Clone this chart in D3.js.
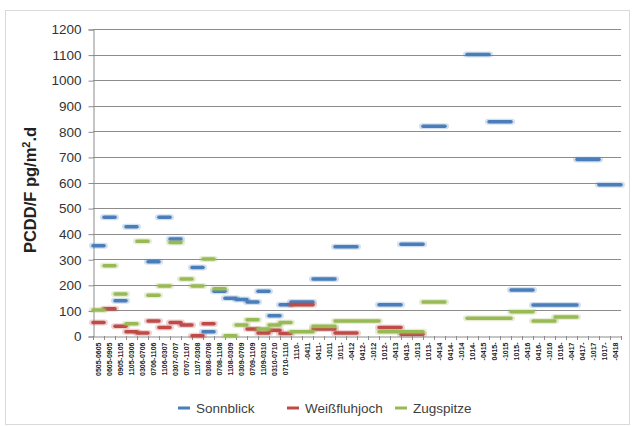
<!DOCTYPE html>
<html>
<head>
<meta charset="utf-8">
<script src="https://cdn.jsdelivr.net/npm/d3@7"></script>
<style>
  body { margin: 0; background: #fff; }
  svg text { font-family: "Liberation Sans", Arial, sans-serif; }
</style>
</head>
<body>
<svg id="chart" width="632" height="426"></svg>
<script>
// sampling periods (x categories)
var categories = [
  "0505-0605","0605-0905","0905-1105","1105-0306","0306-0706","0706-1106",
  "1106-0307","0307-0707","0707-1107","1107-0308","0308-0708","0708-1108",
  "1108-0309","0309-0709","0709-1109","1109-0310","0310-0710","0710-1110",
  "1110-","-0411","0411-","-1011","1011-","-0412","0412-","-1012",
  "1012-","-0413","0413-","-1013","1013-","-0414","0414-","-1014",
  "1014-","-0415","0415-","-1015","1015-","-0416","0416-","-1016",
  "1016-","-0417","0417-","-1017","1017-","-0418"
];
var yTicks = [0,100,200,300,400,500,600,700,800,900,1000,1100,1200];

// pg/m2.d per period, equal neighbours form one longer bar
var sonnblick = [353,464,138,427,null,290,464,379,null,268,17,175,148,143,133,175,79,122,
  133,133,223,223,349,349,null,null,122,122,359,359,820,820,null,null,
  1100,1100,837,837,180,180,121,121,121,121,690,690,591,591];
var weissfluhjoch = [53,107,38,17,12,59,33,53,43,1,48,null,null,null,27,12,22,10,
  122,122,27,27,12,12,null,null,33,33,7,7,null,null,null,null,
  null,null,null,null,null,null,null,null,null,null,null,null,null,null];
var zugspitze = [102,275,164,48,370,159,195,365,223,195,301,185,1,43,64,27,43,53,
  17,17,38,38,59,59,59,59,17,17,17,17,133,133,null,null,
  69,69,69,69,95,95,59,59,74,74,null,null,null,null];

var seriesNames = ["Sonnblick","Weißfluhjoch","Zugspitze"];
var seriesColors = ["#4a7ebb","#be4b48","#98b954"];
var seriesData = [sonnblick, weissfluhjoch, zugspitze];

var svg = d3.select("#chart");
var plotLeft = 93, plotRight = 621, plotTop = 29, plotBottom = 336;

// frame
svg.append("rect").attr("x",5.5).attr("y",10.5).attr("width",624).attr("height",414)
  .attr("fill","none").attr("stroke","#d9d9d9");

var x = d3.scaleBand().domain(categories).range([plotLeft,plotRight]).paddingInner(0).paddingOuter(0);
var y = d3.scaleLinear().domain([0,1200]).range([plotBottom,plotTop]);

// gridlines
svg.append("g").selectAll("line").data(yTicks.slice(1)).join("line")
  .attr("x1",plotLeft).attr("x2",plotRight)
  .attr("y1",function(d){return Math.round(y(d))+0.5;})
  .attr("y2",function(d){return Math.round(y(d))+0.5;})
  .attr("stroke","#8c8c8c").attr("stroke-width",1);

// y axis
var yAxis = svg.append("g").attr("transform","translate("+(plotLeft+0.5)+",0.5)")
  .call(d3.axisLeft(y).tickValues(yTicks).tickFormat(d3.format("d")).tickSize(5).tickPadding(7));
yAxis.select(".domain").attr("stroke","#8c8c8c");
yAxis.selectAll(".tick line").attr("stroke","#8c8c8c");
yAxis.selectAll("text").attr("font-family","DejaVu Sans, sans-serif")
  .attr("font-size","13.5px").attr("fill","#333");

// x axis
var xAxis = svg.append("g").attr("transform","translate(0,"+(plotBottom+0.5)+")")
  .call(d3.axisBottom(x).tickSize(0).tickPadding(0));
xAxis.select(".domain").attr("stroke","#8c8c8c");
xAxis.selectAll("text")
  .attr("transform","rotate(-90)")
  .attr("text-anchor","end")
  .attr("x",-6).attr("y",0.5).attr("dy","0.35em")
  .attr("font-size","7px").attr("font-weight","bold").attr("fill","#222");
// tick marks between categories
svg.append("g").selectAll("line").data(categories.concat([null])).join("line")
  .attr("x1",function(d,i){return Math.round(plotLeft+i*x.bandwidth())+0.5;})
  .attr("x2",function(d,i){return Math.round(plotLeft+i*x.bandwidth())+0.5;})
  .attr("y1",plotBottom).attr("y2",plotBottom+4)
  .attr("stroke","#8c8c8c");

// merge equal neighbours into bars
function segments(vals) {
  var out = [], i = 0;
  while (i < vals.length) {
    if (vals[i] == null) { i++; continue; }
    var j = i;
    while (j+1 < vals.length && vals[j+1] === vals[i]) j++;
    out.push({x0: x(categories[i]) - 1, x1: x(categories[j]) + x.bandwidth() + 1, v: vals[i]});
    i = j+1;
  }
  return out;
}

seriesData.forEach(function(vals, k){
  var g = svg.append("g");
  var segs = segments(vals);
  g.selectAll("line.glow").data(segs).join("line").attr("class","glow")
    .attr("x1",function(d){return d.x0;}).attr("x2",function(d){return d.x1;})
    .attr("y1",function(d){return y(d.v);}).attr("y2",function(d){return y(d.v);})
    .attr("stroke",seriesColors[k]).attr("stroke-opacity",0.25)
    .attr("stroke-width",6).attr("stroke-linecap","round");
  g.selectAll("line.bar").data(segs).join("line").attr("class","bar")
    .attr("x1",function(d){return d.x0+1;}).attr("x2",function(d){return d.x1-1;})
    .attr("y1",function(d){return y(d.v);}).attr("y2",function(d){return y(d.v);})
    .attr("stroke",seriesColors[k]).attr("stroke-width",3.5).attr("stroke-linecap","round");
});

// y title
svg.append("text")
  .attr("transform","translate(36,190) rotate(-90)")
  .attr("text-anchor","middle")
  .attr("font-family","DejaVu Sans, sans-serif")
  .attr("font-size","16.5px").attr("font-weight","bold").attr("fill","#222")
  .html('PCDD/F pg/m<tspan dy="-6" font-size="11px">2</tspan><tspan dy="6">.d</tspan>');

// legend
var legendX = [178,287,395];
var legend = svg.append("g");
seriesNames.forEach(function(name,k){
  legend.append("line").attr("x1",legendX[k]).attr("x2",legendX[k]+12)
    .attr("y1",408).attr("y2",408)
    .attr("stroke",seriesColors[k]).attr("stroke-width",3);
  legend.append("text").attr("x",legendX[k]+18).attr("y",408).attr("dy","0.35em")
    .attr("font-size","13.5px").attr("fill","#404040").text(name);
});
</script>
</body>
</html>
